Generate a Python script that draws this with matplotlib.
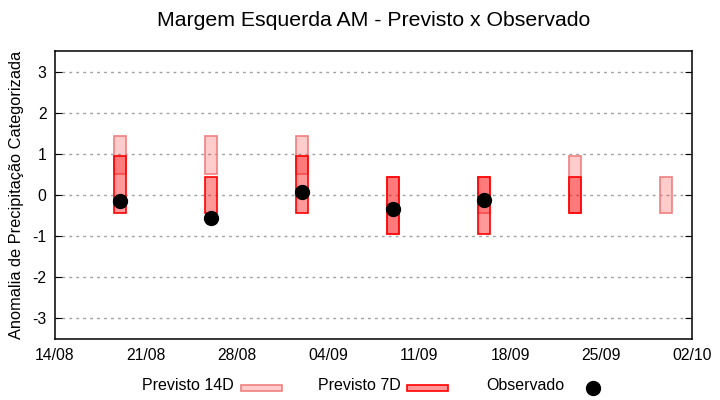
import matplotlib
matplotlib.use("Agg")
import matplotlib.pyplot as plt
import matplotlib.dates as mdates
from matplotlib.patches import Rectangle
from matplotlib.lines import Line2D
import datetime as dt

plt.rcParams['font.family'] = ['Liberation Sans', 'DejaVu Sans']

# Data
dates = ["2023-08-19", "2023-08-26", "2023-09-02", "2023-09-09",
         "2023-09-16", "2023-09-23", "2023-09-30"]
p14_low = [0.5, 0.5, 0.5, -0.95, -0.45, -0.45, -0.45]
p14_high = [1.45, 1.45, 1.45, 0.45, 0.45, 0.95, 0.45]
p7_low = [-0.45, -0.45, -0.45, -0.95, -0.95, -0.45, None]
p7_high = [0.95, 0.45, 0.95, 0.45, 0.45, 0.45, None]
obs_dates = ["2023-08-19", "2023-08-26", "2023-09-02", "2023-09-09", "2023-09-16"]
obs_vals = [-0.15, -0.56, 0.07, -0.34, -0.12]
xtick_labels = ["14/08", "21/08", "28/08", "04/09", "11/09", "18/09", "25/09", "02/10"]
xtick_dates = ["2023-08-14", "2023-08-21", "2023-08-28", "2023-09-04",
               "2023-09-11", "2023-09-18", "2023-09-25", "2023-10-02"]

def d2n(s):
    return mdates.date2num(dt.datetime.strptime(s, "%Y-%m-%d"))

fig = plt.figure(figsize=(7.2, 4.0), dpi=100)
ax = fig.add_axes([55/720, 1-338.5/400, (692-55)/720, (338.5-51.5)/400])

w = 0.92
for d, lo, hi in zip(dates, p14_low, p14_high):
    x = d2n(d)
    ax.bar(x, hi - lo, bottom=lo, width=w, color=(1, 0, 0, 0.2),
           edgecolor='#f08080', linewidth=1.2, zorder=3)
for d, lo, hi in zip(dates, p7_low, p7_high):
    if lo is None:
        continue
    x = d2n(d)
    ax.bar(x, hi - lo, bottom=lo, width=w, color=(1, 0, 0, 0.4),
           edgecolor='#ff0000', linewidth=1.2, zorder=4)
ax.plot([d2n(d) for d in obs_dates], obs_vals, 'o', color='black',
        markersize=10, zorder=5, linestyle='none')

ax.set_xlim(d2n(xtick_dates[0]), d2n(xtick_dates[-1]))
ax.set_ylim(-3.5, 3.5)
ax.set_xticks([d2n(d) for d in xtick_dates])
ax.set_xticklabels(xtick_labels)
ax.set_yticks([-3, -2, -1, 0, 1, 2, 3])
ax.set_yticklabels(["-3", "-2", "-1", "0", "1", "2", "3"])
ax.tick_params(axis='y', direction='in', length=5, right=True, labelsize=11.3, pad=6)
ax.tick_params(axis='x', direction='in', length=0, labelsize=11.3, pad=7)
ax.grid(axis='y', color='#a0a0a0', linestyle=(0, (2, 3)), linewidth=1, zorder=1)
for s in ax.spines.values():
    s.set_linewidth(1.1)
    s.set_color('black')
ax.set_ylabel("Anomalia de Precipitação Categorizada", fontsize=11.8, labelpad=6)

fig.text(373.5/720, 1-20/400, "Margem Esquerda AM - Previsto x Observado",
         ha='center', va='center', fontsize=15.3)

# Legend (manual, gnuplot style)
fs = 11.5
ly = 1 - 386/400
fig.text(142/720, ly, "Previsto 14D", ha='left', va='center', fontsize=fs)
fig.add_artist(Rectangle((241/720, 1-391/400), 41/720, 6/400, transform=fig.transFigure,
                         facecolor=(1, 0, 0, 0.2), edgecolor='#f08080', linewidth=1.2))
fig.text(318/720, ly, "Previsto 7D", ha='left', va='center', fontsize=fs)
fig.add_artist(Rectangle((407/720, 1-391/400), 41/720, 6/400, transform=fig.transFigure,
                         facecolor=(1, 0, 0, 0.4), edgecolor='#ff0000', linewidth=1.2))
fig.text(486/720, ly, "Observado", ha='left', va='center', fontsize=fs)
fig.add_artist(Line2D([593/720], [1-388/400], transform=fig.transFigure, marker='o',
                      color='black', markersize=10, linestyle='none'))

fig.savefig("out.png", dpi=100)
